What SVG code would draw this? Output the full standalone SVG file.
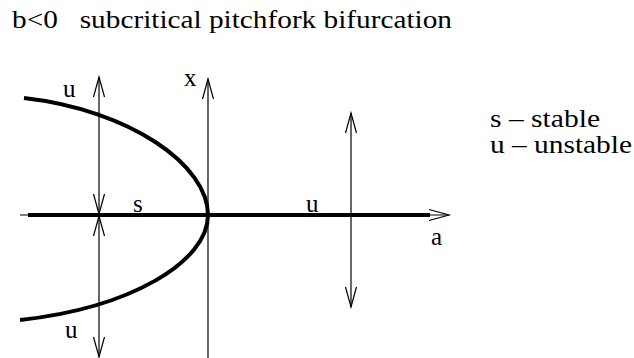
<svg xmlns="http://www.w3.org/2000/svg" width="634" height="358" viewBox="0 0 634 358">
<style>
text{font-family:"Liberation Serif","Times New Roman","DejaVu Serif",serif;font-size:25px;fill:#000;white-space:pre}
.thin{stroke:#000;stroke-width:1.2;fill:none}
.thick{stroke:#000;stroke-width:4;fill:none}
.ah{stroke:#000;stroke-width:1.2;fill:none}
</style>
<rect width="634" height="358" fill="#fff"/>
<text x="12" y="28" xml:space="preserve" textLength="440" lengthAdjust="spacingAndGlyphs">b&lt;0   subcritical pitchfork bifurcation</text>
<g id="connectors">
<line class="thin" x1="20" y1="215" x2="449" y2="215"/>
<polyline class="ah" points="429,209.5 449,215 429,220.5"/>
<line class="thin" x1="208" y1="79" x2="208" y2="358"/>
<polyline class="ah" points="202.5,99 208,79 213.5,99"/>
<line class="thin" x1="99" y1="77" x2="99" y2="357"/>
<polyline class="ah" points="93.5,97 99,77 104.5,97"/>
<polyline class="ah" points="93.5,194 99,214 104.5,194"/>
<polyline class="ah" points="93.5,236 99,216 104.5,236"/>
<polyline class="ah" points="93.5,337 99,357 104.5,337"/>
<line class="thin" x1="351" y1="113" x2="351" y2="307"/>
<polyline class="ah" points="345.5,133 351,113 356.5,133"/>
<polyline class="ah" points="345.5,287 351,307 356.5,287"/>
</g>
<g id="branches">
<line class="thick" x1="28" y1="215" x2="430" y2="215"/>
<path class="thick" d="M208,215 C208,165 130,110 24,98"/>
<path class="thick" d="M208,215 C208,262 130,308 20,320"/>
</g>
<g id="labels">
<text x="184" y="86">x</text>
<text x="63" y="97">u</text>
<text x="133" y="212">s</text>
<text x="65" y="338">u</text>
<text x="306" y="212">u</text>
<text x="431" y="245">a</text>
</g>
<g id="legend">
<text x="490" y="127" textLength="110" lengthAdjust="spacingAndGlyphs">s – stable</text>
<text x="490" y="153" textLength="142" lengthAdjust="spacingAndGlyphs">u – unstable</text>
</g>
</svg>
